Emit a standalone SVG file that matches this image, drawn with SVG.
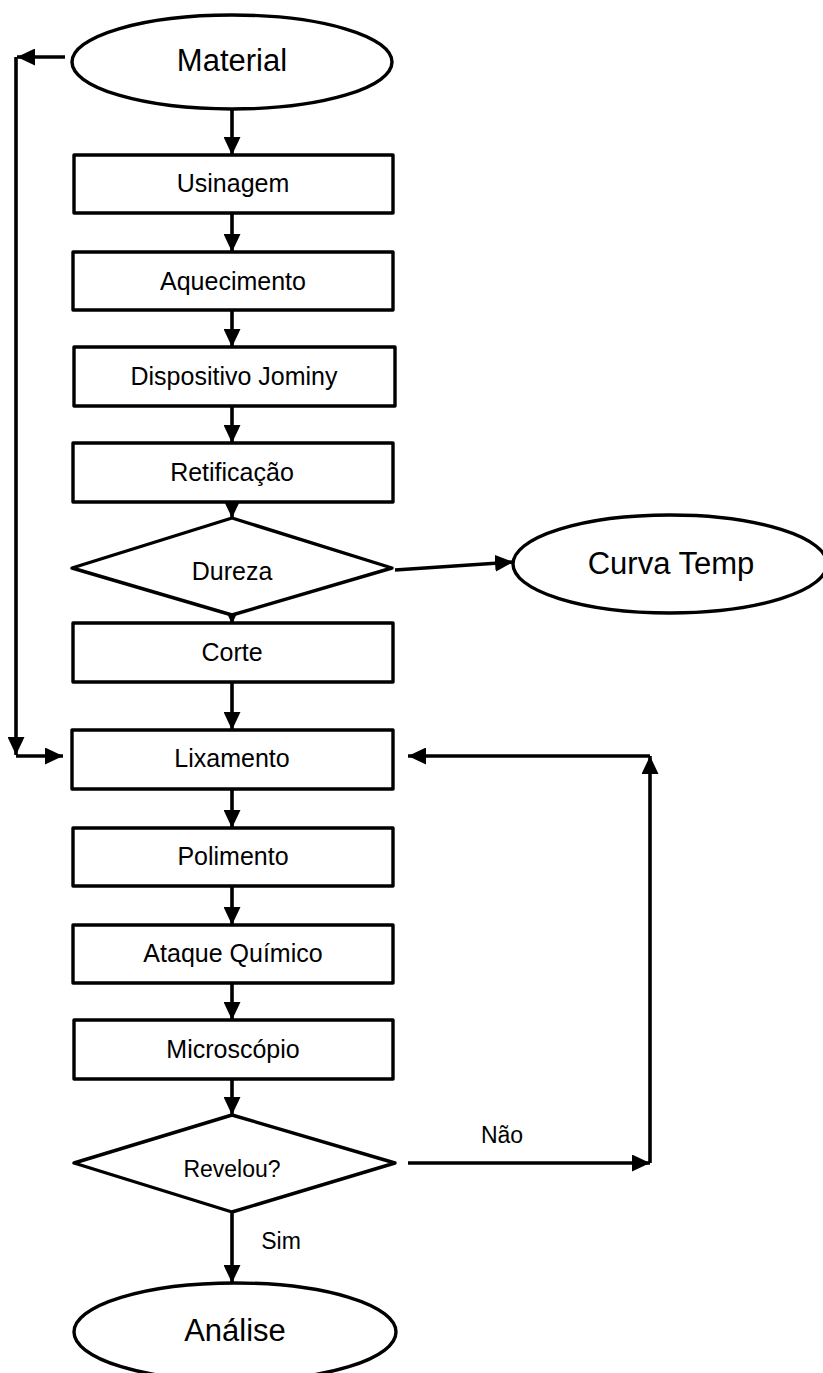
<svg xmlns="http://www.w3.org/2000/svg" width="823" height="1373" viewBox="0 0 823 1373">
<style>
.n{fill:#fff;stroke:#000;stroke-width:3.4;stroke-linejoin:round}
.t{font-family:"Liberation Sans",Arial,sans-serif;fill:#000;text-anchor:middle}
.b{font-size:25px}
.d{font-size:23px}
.z{font-size:25px}
.e{font-size:31px}
.c{fill:none;stroke:#000;stroke-width:3.6}
</style>
<defs>
<marker id="ah" markerUnits="userSpaceOnUse" markerWidth="18" markerHeight="17" viewBox="0 0 18 17" refX="18" refY="8.5" orient="auto">
<path d="M0,0 L18,8.5 L0,17 z" fill="#000"/>
</marker>
</defs>
<rect width="823" height="1373" fill="#fff"/>
<g id="connectors">
<path class="c" d="M232,110 V155" marker-end="url(#ah)"/>
<path class="c" d="M232,213 V252" marker-end="url(#ah)"/>
<path class="c" d="M232,310 V347" marker-end="url(#ah)"/>
<path class="c" d="M232,406 V443" marker-end="url(#ah)"/>
<path class="c" d="M232,502 V518" marker-end="url(#ah)"/>
<path class="c" d="M232,612 V624" marker-end="url(#ah)"/>
<path class="c" d="M232,682 V730" marker-end="url(#ah)"/>
<path class="c" d="M232,789 V828" marker-end="url(#ah)"/>
<path class="c" d="M232,886 V925" marker-end="url(#ah)"/>
<path class="c" d="M232,983 V1020" marker-end="url(#ah)"/>
<path class="c" d="M232,1079 V1115" marker-end="url(#ah)"/>
<path class="c" d="M232,1212 V1283" marker-end="url(#ah)"/>
<path class="c" d="M395,570 L513,562" marker-end="url(#ah)"/>
<path class="c" d="M65,57 H17" marker-end="url(#ah)"/>
<path class="c" d="M16,57 V755" marker-end="url(#ah)"/>
<path class="c" d="M16,756 H63" marker-end="url(#ah)"/>
<path class="c" d="M408,1163 H650" marker-end="url(#ah)"/>
<path class="c" d="M650,1163 V756" marker-end="url(#ah)"/>
<path class="c" d="M650,756 H408" marker-end="url(#ah)"/>
<text class="t d" x="502" y="1143">Não</text>
<text class="t d" x="281" y="1249">Sim</text>
</g>
<g id="material"><ellipse class="n" cx="232" cy="62" rx="160" ry="47"/><text class="t e" x="232" y="71">Material</text></g>
<g id="usinagem"><rect class="n" x="74" y="155" width="319" height="58"/><text class="t b" x="233" y="192">Usinagem</text></g>
<g id="aquecimento"><rect class="n" x="73" y="252" width="320" height="58"/><text class="t b" x="233" y="290">Aquecimento</text></g>
<g id="jominy"><rect class="n" x="74" y="347" width="321" height="59"/><text class="t b" x="234" y="385">Dispositivo Jominy</text></g>
<g id="retificacao"><rect class="n" x="73" y="443" width="320" height="59"/><text class="t b" x="232" y="481">Retificação</text></g>
<g id="dureza"><polygon class="n" points="232,518 392,568 232,615 72,568"/><text class="t z" x="232" y="580">Dureza</text></g>
<g id="curva"><ellipse class="n" cx="670" cy="564" rx="157" ry="49"/><text class="t e" x="671" y="574">Curva Temp</text></g>
<g id="corte"><rect class="n" x="73" y="623" width="320" height="59"/><text class="t b" x="232" y="661">Corte</text></g>
<g id="lixamento"><rect class="n" x="72" y="730" width="321" height="59"/><text class="t b" x="232" y="767">Lixamento</text></g>
<g id="polimento"><rect class="n" x="73" y="828" width="320" height="58"/><text class="t b" x="233" y="865">Polimento</text></g>
<g id="ataque"><rect class="n" x="73" y="925" width="320" height="58"/><text class="t b" x="233" y="962">Ataque Químico</text></g>
<g id="microscopio"><rect class="n" x="74" y="1020" width="319" height="59"/><text class="t b" x="233" y="1058">Microscópio</text></g>
<g id="revelou"><polygon class="n" points="232,1115 395,1163 232,1212 74,1163"/><text class="t d" x="232" y="1177">Revelou?</text></g>
<g id="analise"><ellipse class="n" cx="235" cy="1332" rx="161" ry="49"/><text class="t e" x="235" y="1341">Análise</text></g>
</svg>
